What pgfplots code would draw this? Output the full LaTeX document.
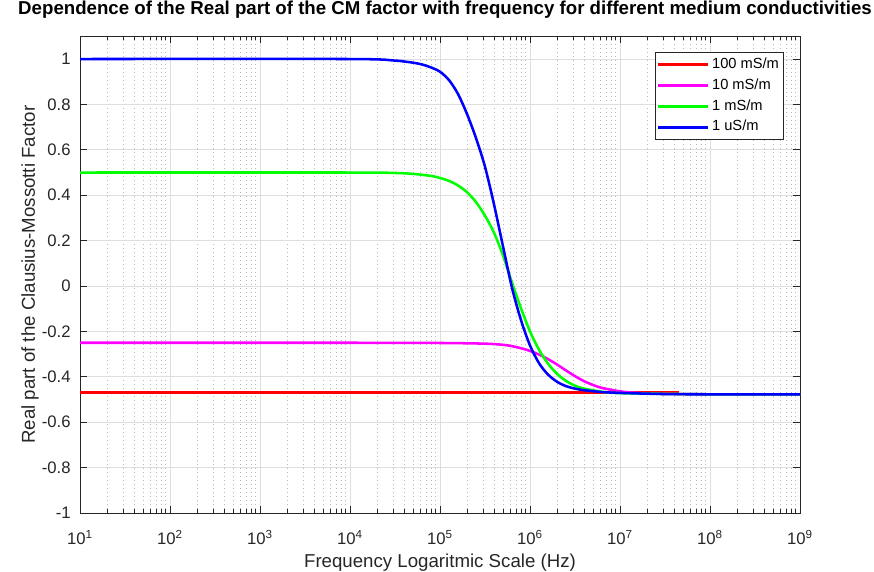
\documentclass[border=0pt]{standalone}
\usepackage{fontspec}
\setmainfont{Liberation Sans}
\usepackage{pgfplots}
\pgfplotsset{compat=1.18}
\definecolor{axgray}{RGB}{38,38,38}
\definecolor{mred}{RGB}{255,0,0}
\definecolor{mmag}{RGB}{255,0,255}
\definecolor{mgreen}{RGB}{0,255,0}
\definecolor{mblue}{RGB}{0,0,255}
\begin{document}
\begin{tikzpicture}
\path[use as bounding box] (-60pt,-43.5pt) rectangle (595.5pt,384.75pt);
\begin{axis}[
  scale only axis, width=540pt, height=357.5pt,
  xmode=log, xmin=10, xmax=1e9, ymin=-1, ymax=1.1,
  xtick={1e1,1e2,1e3,1e4,1e5,1e6,1e7,1e8,1e9},
  xticklabels={10\textsuperscript{1},10\textsuperscript{2},10\textsuperscript{3},10\textsuperscript{4},10\textsuperscript{5},10\textsuperscript{6},10\textsuperscript{7},10\textsuperscript{8},10\textsuperscript{9}},
  minor xtick={2e1,3e1,4e1,5e1,6e1,7e1,8e1,9e1,2e2,3e2,4e2,5e2,6e2,7e2,8e2,9e2,2e3,3e3,4e3,5e3,6e3,7e3,8e3,9e3,2e4,3e4,4e4,5e4,6e4,7e4,8e4,9e4,2e5,3e5,4e5,5e5,6e5,7e5,8e5,9e5,2e6,3e6,4e6,5e6,6e6,7e6,8e6,9e6,2e7,3e7,4e7,5e7,6e7,7e7,8e7,9e7,2e8,3e8,4e8,5e8,6e8,7e8,8e8,9e8},
  ytick={-1,-0.8,-0.6,-0.4,-0.2,0,0.2,0.4,0.6,0.8,1},
  yticklabels={-1,-0.8,-0.6,-0.4,-0.2,0,0.2,0.4,0.6,0.8,1},
  grid=both,
  major grid style={color=black!13, line width=0.6pt},
  minor grid style={color=black!28, line width=0.6pt, dash pattern=on 0.75pt off 2.25pt},
  tick align=inside,
  major tick length=5pt, minor tick length=3pt,
  every tick/.style={color=axgray, line width=0.6pt},
  axis line style={color=axgray, line width=0.75pt},
  tick label style={font=\fontsize{12.5}{14}\selectfont, color=axgray},
  xticklabel style={yshift=-9.5pt},
  yticklabel style={xshift=-3.5pt},
  title={\bfseries Dependence of the Real part of the CM factor with frequency for different medium conductivities},
  title style={at={(axis description cs:0.507,1.0384)}, anchor=center, font=\fontsize{14}{16}\selectfont, color=black},
  xlabel={Frequency Logaritmic Scale (Hz)},
  xlabel style={at={(axis description cs:0.5,-0.1045)}, anchor=center, font=\fontsize{14}{16}\selectfont, color=axgray},
  ylabel={Real part of the Clausius-Mossotti Factor},
  ylabel style={at={(axis description cs:-0.0694,0.5)}, anchor=center, font=\fontsize{14}{16}\selectfont, color=axgray},
  legend cell align=left,
  legend image code/.code={\draw[#1] (0pt,0pt) -- (37pt,0pt);},
  legend style={at={(axis description cs:1,1)}, anchor=north east, xshift=-12pt, yshift=-12pt,
    draw=axgray, line width=0.6pt, fill=white, font=\fontsize{11}{13}\selectfont, inner sep=1pt,
    nodes={text height=7.5pt, text depth=2pt, inner ysep=3.1pt, inner xsep=2.5pt}},
]
\addplot[mred, line width=1.9pt] coordinates {(10,-0.47) (4.5e7,-0.47)};
\addlegendentry{100 mS/m}
\addplot[mmag, line width=1.9pt, smooth, tension=0.5] coordinates {
(10,-0.25) (1e4,-0.25) (1e5,-0.251) (3.16e5,-0.254) (5.01e5,-0.259) (6.31e5,-0.265) (7.94e5,-0.274)
(1e6,-0.286) (1.26e6,-0.302) (1.585e6,-0.322) (2e6,-0.346) (2.51e6,-0.372) (3.16e6,-0.397)
(3.98e6,-0.419) (5.01e6,-0.436) (6.31e6,-0.449) (1e7,-0.464) (1.585e7,-0.471) (3.16e7,-0.475) (1e8,-0.477) (1e9,-0.477)};
\addlegendentry{10 mS/m}
\addplot[mgreen, line width=1.9pt, smooth, tension=0.5] coordinates {
(10,0.5) (1e4,0.5) (3.16e4,0.498) (5.01e4,0.494) (7.94e4,0.485) (1e5,0.476) (1.26e5,0.463) (1.585e5,0.443)
(2e5,0.413) (2.51e5,0.37) (3.16e5,0.31) (3.98e5,0.235) (5.01e5,0.135) (6.31e5,0.015) (7.94e5,-0.098)
(1e6,-0.2) (1.26e6,-0.281) (1.585e6,-0.342) (2e6,-0.387) (2.51e6,-0.418) (3.16e6,-0.439) (3.98e6,-0.452)
(6.31e6,-0.466) (1e7,-0.472) (3.16e7,-0.475) (1e8,-0.477) (1e9,-0.477)};
\addlegendentry{1 mS/m}
\addplot[mblue, line width=1.9pt, smooth, tension=0.5] coordinates {
(10,1) (1e4,1) (3.16e4,0.993) (3.98e4,0.989) (5.01e4,0.984) (6.31e4,0.976) (7.94e4,0.963) (1e5,0.944)
(1.26e5,0.907) (1.585e5,0.846) (2e5,0.757) (2.51e5,0.652) (3.16e5,0.526) (3.98e5,0.36) (5.01e5,0.175)
(6.31e5,-0.008) (7.94e5,-0.15) (1e6,-0.262) (1.26e6,-0.34) (1.585e6,-0.39) (2e6,-0.422) (2.51e6,-0.441)
(3.16e6,-0.452) (3.98e6,-0.459) (6.31e6,-0.467) (1e7,-0.471) (3.16e7,-0.476) (1e8,-0.477) (1e9,-0.477)};
\addlegendentry{1 uS/m}
\end{axis}
\end{tikzpicture}
\end{document}
